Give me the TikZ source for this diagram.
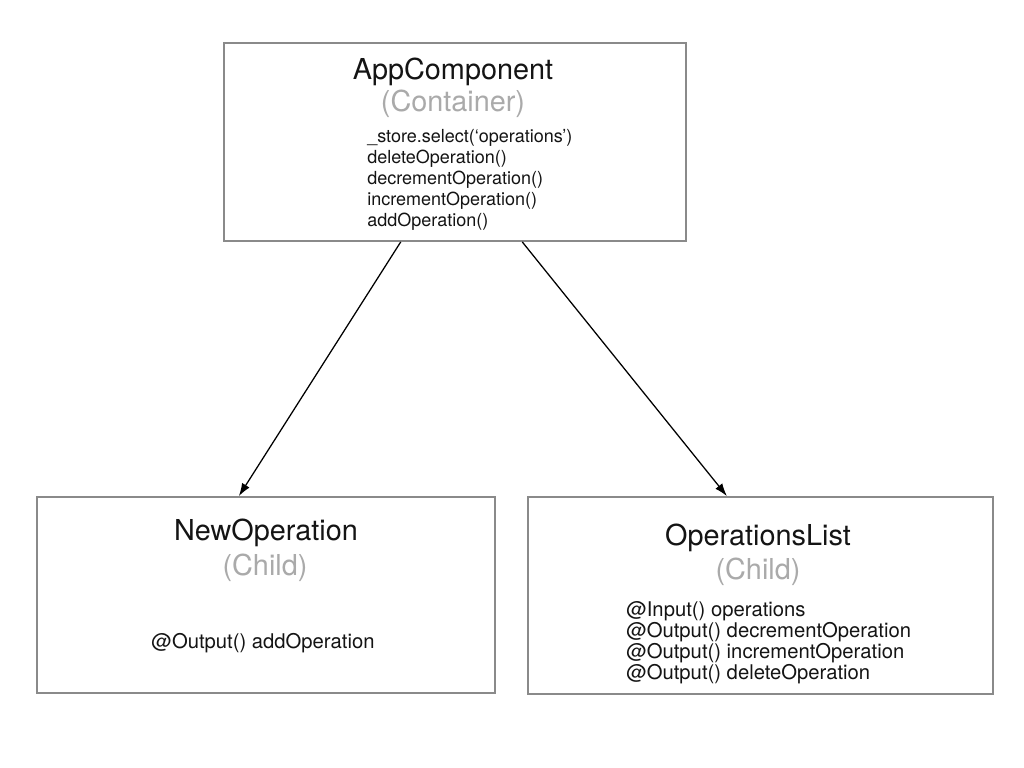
\documentclass[tikz,border=0pt]{standalone}
\usepackage{fontspec}
\setmainfont{TeX Gyre Heros}
\usepackage{tikz}
\usetikzlibrary{
  arrows.meta,
  positioning,
  calc
}
\definecolor{boxcolor}{RGB}{138, 138, 138}
\definecolor{rolecolor}{RGB}{170, 170, 170}
\definecolor{labelcolor}{RGB}{20, 20, 20}
\tikzset{
componentbox/.style={
  draw=boxcolor,
  line width=1.3pt,
  fill=white,
  rectangle,
  inner sep=0pt
},
titlelabel/.style={
  font=\fontsize{20.5}{23}\selectfont,
  text=labelcolor,
  align=center
},
rolelabel/.style={
  font=\fontsize{20.5}{23}\selectfont,
  text=rolecolor,
  align=center
},
methodlist/.style={
  font=\fontsize{12.8}{14.8}\selectfont,
  text=labelcolor,
  align=left,
  anchor=west,
  inner sep=0pt
},
bindinglist/.style={
  font=\fontsize{14.4}{14.9}\selectfont,
  text=labelcolor,
  align=left,
  inner sep=0pt
},
arrow/.style={
  -{Latex[length=3.2mm,width=2.2mm]},
  line width=0.9pt,
  draw=black
}
}
\begin{document}
\begin{tikzpicture}[x=0.025cm, y=-0.025cm]
  \useasboundingbox (0,0) rectangle (1024,768);
  % Boxes
  \node[componentbox, minimum width=462*0.025cm, minimum height=198*0.025cm] (app) at (455,142) {};
  \node[componentbox, minimum width=458*0.025cm, minimum height=196*0.025cm] (newop) at (266,595) {};
  \node[componentbox, minimum width=465*0.025cm, minimum height=197*0.025cm] (oplist) at (760.5,595.5) {};
  % AppComponent
  \node[titlelabel] (apptitle) at (453,72) {AppComponent};
  \node[rolelabel] (approle) at (453,104) {(Container)};
  \node[methodlist] (appmethods) at (367,180) {\_store.select(‘operations’)\\deleteOperation()\\decrementOperation()\\incrementOperation()\\addOperation()};
  % NewOperation
  \node[titlelabel] (newoptitle) at (266,533) {NewOperation};
  \node[rolelabel] (newoprole) at (265,568) {(Child)};
  \node[bindinglist] (newopoutputs) at (263,643) {@Output() addOperation};
  % OperationsList
  \node[titlelabel] (oplisttitle) at (758,538) {OperationsList};
  \node[rolelabel] (oplistrole) at (758,572) {(Child)};
  \node[bindinglist, anchor=west] (oplistbindings) at (626,643) {@Input() operations\\@Output() decrementOperation\\@Output() incrementOperation\\@Output() deleteOperation};
  % Arrows
  \draw[arrow] ($(app.south west)!0.383!(app.south east)$) -- ($(newop.north west)!0.441!(newop.north east)$);
  \draw[arrow] ($(app.south west)!0.645!(app.south east)$) -- ($(oplist.north west)!0.428!(oplist.north east)$);
\end{tikzpicture}
\end{document}
